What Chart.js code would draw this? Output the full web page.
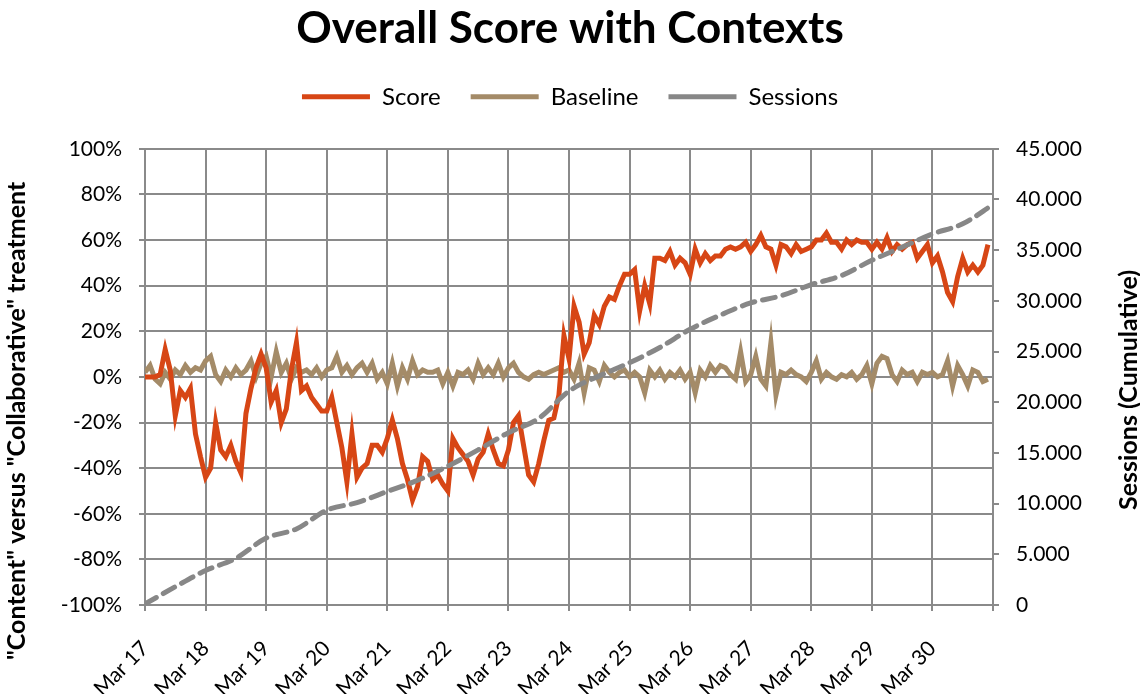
<!DOCTYPE html>
<html>
<head>
<meta charset="utf-8">
<script src="https://cdn.jsdelivr.net/npm/chart.js@4.4.1/dist/chart.umd.min.js"></script>
<style>
  html, body { margin: 0; padding: 0; background: #fff; }
  canvas { display: block; }
</style>
</head>
<body>
<canvas id="chart" width="1140" height="694"></canvas>
<script>
// tick labels, one per day
const dayLabels = ['Mar 17', 'Mar 18', 'Mar 19', 'Mar 20', 'Mar 21', 'Mar 22', 'Mar 23',
  'Mar 24', 'Mar 25', 'Mar 26', 'Mar 27', 'Mar 28', 'Mar 29', 'Mar 30'];

// score and baseline, one value every 2 hours from Mar 17 00:00 (%)
const score = [
  0, 0, 0, 1, 12, 3, -17, -6, -9, -5,
  -25, -35, -44, -40, -20, -32, -35, -30, -37, -42,
  -16, -5, 4, 10, 4, -11, -6, -20, -14, 3,
  15, -6, -4, -9, -12, -15, -15, -9, -20, -31,
  -46, -25, -44, -40, -38, -30, -30, -33, -27, -19,
  -27, -38, -45, -54, -48, -35, -37, -45, -43, -47,
  -50, -27, -31, -34, -37, -43, -36, -33, -25, -32,
  -38, -39, -32, -20, -17, -30, -43, -46, -38, -28,
  -19, -18, -8, 18, 8, 31, 24, 10, 15, 27,
  23, 31, 35, 34, 40, 45, 45, 47, 29, 40,
  32, 52, 52, 51, 55, 49, 52, 50, 45, 56,
  50, 54, 51, 53, 53, 56, 57, 56, 57, 59,
  55, 58, 62, 57, 56, 49, 58, 57, 54, 58,
  55, 56, 57, 60, 60, 63, 59, 59, 56, 60,
  58, 60, 59, 59, 56, 59, 56, 61, 55, 58,
  56, 58, 59, 52, 55, 58, 50, 53, 46, 37,
  33, 44, 52, 46, 49, 46, 49, 58
];
const baseline = [
  2, 5, -1, -3, 2, -1, 3, 1, 5, 2,
  4, 3, 7, 9, 1, -2, 3, 0, 4, 1,
  3, 7, 0, 6, 9, 0, 11, 2, 6, -1,
  4, 2, 3, 1, 4, 0, 3, 4, 9, 2,
  5, 1, 4, 6, 2, 6, -1, 2, -3, 6,
  -4, 4, -1, 7, 1, 3, 2, 2, 3, -3,
  2, -4, 2, 1, 3, -1, 6, 1, 4, 1,
  6, 0, 4, 6, 2, 0, -1, 1, 2, 1,
  2, 3, 4, 2, 3, -1, 6, -7, 4, 3,
  -2, 5, 2, 0, 2, 3, 0, 2, 0, -7,
  3, 0, 3, -1, 2, 0, 3, -1, 2, -7,
  3, 0, 5, 2, 5, 4, 1, -1, 11, -2,
  1, 9, -1, -4, 15, -8, 2, 1, 3, 1,
  0, -2, 2, 7, -1, 2, 0, -1, 1, 0,
  2, -1, 1, 5, -3, 6, 9, 8, 1, -2,
  3, 1, 2, -2, 2, 1, 2, 0, 1, 7,
  -4, 5, 1, -4, 3, 2, -2, -1
];
// cumulative sessions, one value every 12 hours
const sessions = [
  100, 1800, 3400, 4600, 6600, 7500, 9350, 10100, 11200, 12300,
  13700, 15300, 17000, 18400, 21100, 22600, 23900, 25400, 27200, 28600,
  29800, 30500, 31600, 32500, 34000, 35300, 36600, 37600, 39500
];

const scoreStep = 2;     // hours between score/baseline samples
const sessionStep = 12;  // hours between session samples

const leftTitle = '"Content" versus "Collaborative" treatment';
const rightTitle = 'Sessions (Cumulative)';

const gridGray = '#8a8a8a';
const font = 'Lato, "Open Sans", sans-serif';

function toPoints(arr, step) {
  return arr.map((v, i) => ({ x: i * step, y: v }));
}

function fmtSessions(v) {
  if (v === 0) return '0';
  return (v / 1000).toFixed(3);
}

// both axis titles read bottom-to-top, like the Excel original
const axisTitles = {
  id: 'axisTitles',
  afterDraw(chart) {
    const ctx = chart.ctx;
    const a = chart.chartArea;
    const mid = (a.top + a.bottom) / 2;
    const draw = (text, x, y) => {
      ctx.save();
      ctx.translate(x, y);
      ctx.rotate(-Math.PI / 2);
      ctx.font = 'bold 25px ' + font;
      ctx.fillStyle = '#000';
      ctx.textAlign = 'center';
      ctx.textBaseline = 'middle';
      ctx.fillText(text, 0, 0);
      ctx.restore();
    };
    draw(leftTitle, 17, mid + 44);
    draw(rightTitle, chart.width - 11, mid + 13);
  }
};

// extra room under the legend, as in the original layout
const legendGap = {
  id: 'legendGap',
  beforeLayout(chart) {
    const lg = chart.legend;
    if (lg && !lg._gapPatched) {
      const fit = lg.fit.bind(lg);
      lg.fit = function () { fit(); this.height += 30; };
      lg._gapPatched = true;
    }
  }
};

new Chart(document.getElementById('chart'), {
  type: 'line',
  data: {
    datasets: [
      {
        label: 'Score',
        data: toPoints(score, scoreStep),
        borderColor: '#D74615',
        backgroundColor: '#D74615',
        borderWidth: 5,
        pointRadius: 0,
        tension: 0,
        yAxisID: 'y',
        order: 1
      },
      {
        label: 'Baseline',
        data: toPoints(baseline, scoreStep),
        borderColor: '#A48B68',
        backgroundColor: '#A48B68',
        borderWidth: 5,
        pointRadius: 0,
        tension: 0,
        yAxisID: 'y',
        order: 2
      },
      {
        label: 'Sessions',
        data: toPoints(sessions, sessionStep),
        borderColor: '#878787',
        backgroundColor: '#878787',
        borderWidth: 5,
        borderDash: [13, 8],
        borderCapStyle: 'round',
        pointRadius: 0,
        cubicInterpolationMode: 'monotone',
        yAxisID: 'y1',
        order: 0
      }
    ]
  },
  options: {
    responsive: false,
    animation: false,
    plugins: {
      title: {
        display: true,
        text: 'Overall Score with Contexts',
        color: '#000',
        font: { family: font, size: 44, weight: 'bold' },
        padding: { top: 2, bottom: 0 }
      },
      legend: {
        position: 'top',
        labels: {
          usePointStyle: true,
          pointStyle: 'line',
          pointStyleWidth: 68,
          color: '#000',
          font: { family: font, size: 24 },
          padding: 30,
          sort: (a, b) => a.datasetIndex - b.datasetIndex
        }
      },
      tooltip: { enabled: false }
    },
    scales: {
      x: {
        type: 'linear',
        min: 0,
        max: 336,
        afterFit: s => { s.height = 89; },
        afterBuildTicks: s => {
          s.ticks = dayLabels.map((_, i) => ({ value: i * 24 })).concat([{ value: 336 }]);
        },
        ticks: {
          autoSkip: false,
          minRotation: 45,
          maxRotation: 45,
          color: '#000',
          font: { family: font, size: 21 },
          padding: 25,
          callback: v => dayLabels[v / 24] || ''
        },
        grid: { color: gridGray, lineWidth: 2, tickLength: 6 },
        border: { color: gridGray, width: 2 }
      },
      y: {
        position: 'left',
        min: -100,
        max: 100,
        afterFit: s => { s.width = 145; },
        ticks: {
          stepSize: 20,
          color: '#000',
          font: { family: font, size: 21 },
          padding: 17,
          callback: v => v + '%'
        },
        grid: { color: gridGray, lineWidth: 2, tickLength: 6 },
        border: { color: gridGray, width: 2 }
      },
      y1: {
        position: 'right',
        min: 0,
        max: 45000,
        afterFit: s => { s.width = 147; },
        ticks: {
          stepSize: 5000,
          color: '#000',
          font: { family: font, size: 21 },
          padding: 17,
          callback: v => fmtSessions(v)
        },
        grid: { drawOnChartArea: false, color: gridGray, lineWidth: 2, tickLength: 6 },
        border: { color: gridGray, width: 2 }
      }
    }
  },
  plugins: [legendGap, axisTitles]
});
</script>
</body>
</html>
